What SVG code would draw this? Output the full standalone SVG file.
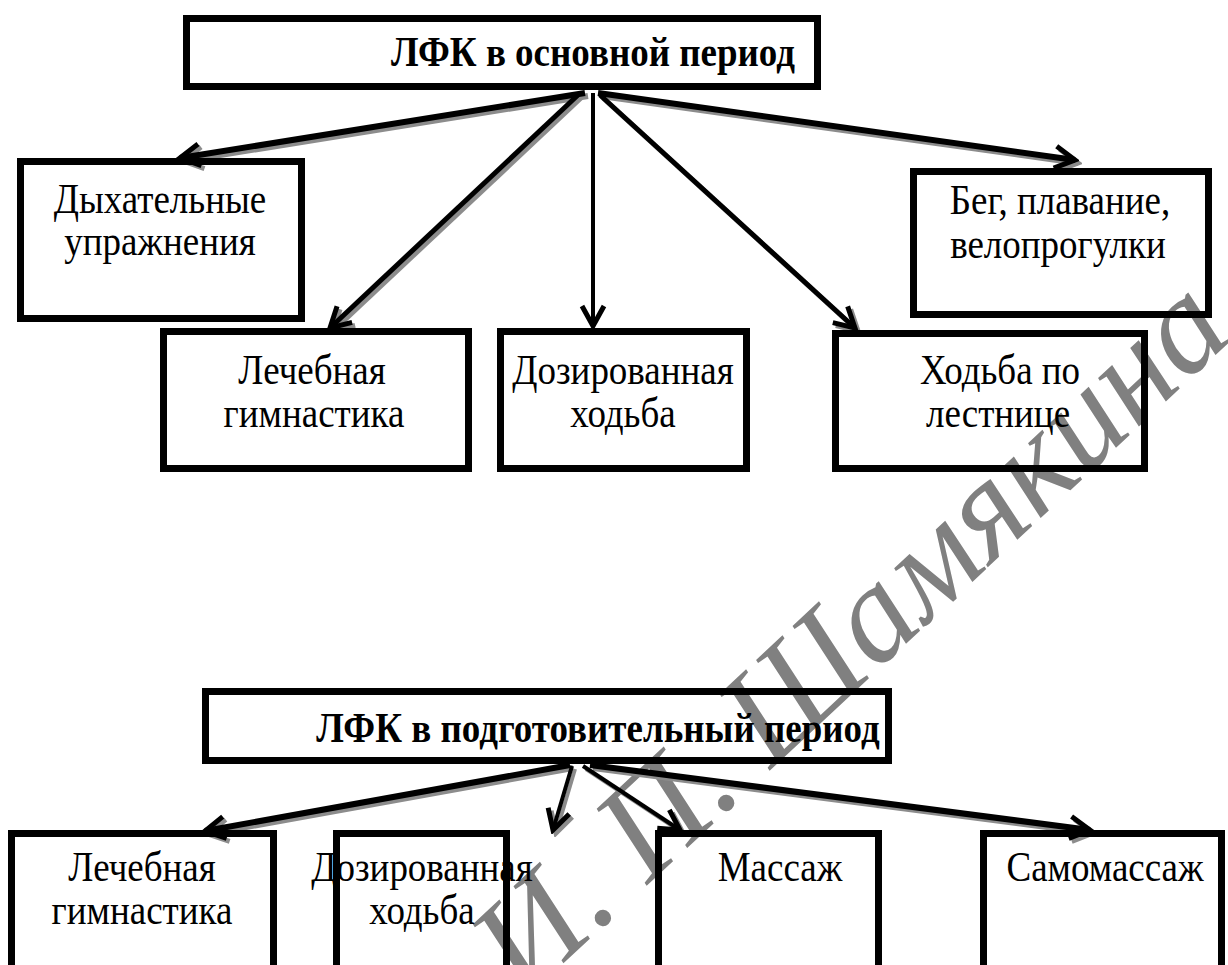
<svg xmlns="http://www.w3.org/2000/svg" width="1228" height="965" viewBox="0 0 1228 965">
<style>
.box{fill:none;stroke:#000;stroke-width:7}
.t{font-family:"Liberation Serif","Times New Roman",serif;font-size:37px;fill:#000;text-anchor:middle}
.tb{font-family:"Liberation Serif","Times New Roman",serif;font-size:37px;font-weight:bold;fill:#000;text-anchor:middle}
.ln{stroke:#000;fill:none;marker-end:url(#ah)}
.sh{stroke:#8c8c8c;fill:none;marker-end:url(#ahs)}
.wm{font-family:"Liberation Serif","Times New Roman",serif;font-size:138px;font-style:italic;fill:#808080;text-anchor:end}
</style>
<defs>
<marker id="ah" markerUnits="userSpaceOnUse" viewBox="0 0 28 28" markerWidth="28" markerHeight="28" refX="24" refY="14" orient="auto">
<path d="M4,3 L24,14 L4,25" fill="none" stroke="#000" stroke-width="5"/>
</marker>
<marker id="ahs" markerUnits="userSpaceOnUse" viewBox="0 0 28 28" markerWidth="28" markerHeight="28" refX="24" refY="14" orient="auto">
<path d="M4,3 L24,14 L4,25" fill="none" stroke="#8c8c8c" stroke-width="5"/>
</marker>
</defs>
<rect width="1228" height="965" fill="#fff"/>
<g id="watermark">
<text class="wm" transform="translate(1236,336) rotate(-43)">И. П. Шамякина</text>
</g>
<g id="connectors">
<g transform="translate(3,3)">
<line class="sh" x1="585" y1="93" x2="180" y2="158" stroke-width="6"/>
<line class="sh" x1="578" y1="95" x2="330" y2="328" stroke-width="5"/>
<line class="sh" x1="600" y1="95" x2="855" y2="328" stroke-width="5"/>
<line class="sh" x1="598" y1="93" x2="1075" y2="160" stroke-width="6"/>
<line class="sh" x1="570" y1="765" x2="205" y2="831" stroke-width="6"/>
<line class="sh" x1="572" y1="766" x2="553" y2="830" stroke-width="4"/>
<line class="sh" x1="583" y1="766" x2="680" y2="830" stroke-width="4"/>
<line class="sh" x1="590" y1="765" x2="1090" y2="830" stroke-width="6"/>
</g>
<line class="ln" x1="585" y1="93" x2="180" y2="158" stroke-width="6"/>
<line class="ln" x1="578" y1="95" x2="330" y2="328" stroke-width="5"/>
<line class="ln" x1="593" y1="93" x2="593" y2="326" stroke-width="4"/>
<line class="ln" x1="600" y1="95" x2="855" y2="328" stroke-width="5"/>
<line class="ln" x1="598" y1="93" x2="1075" y2="160" stroke-width="6"/>
<line class="ln" x1="570" y1="765" x2="205" y2="831" stroke-width="6"/>
<line class="ln" x1="572" y1="766" x2="553" y2="830" stroke-width="4"/>
<line class="ln" x1="583" y1="766" x2="680" y2="830" stroke-width="4"/>
<line class="ln" x1="590" y1="765" x2="1090" y2="830" stroke-width="6"/>
</g>
<g id="n-main">
<rect class="box" x="186.5" y="18.5" width="631" height="68"/>
<text class="tb" transform="translate(593,66) scale(1,1.15)">ЛФК в основной период</text>
</g>
<g id="n-breath">
<rect class="box" x="20.5" y="161.5" width="281" height="157"/>
<text class="t" transform="translate(160,213) scale(1,1.16)">Дыхательные</text>
<text class="t" transform="translate(160,255) scale(1,1.16)">упражнения</text>
</g>
<g id="n-run">
<rect class="box" x="913.5" y="171.5" width="295" height="143"/>
<text class="t" transform="translate(1060,214) scale(1,1.16)">Бег, плавание,</text>
<text class="t" transform="translate(1058,258) scale(1,1.16)">велопрогулки</text>
</g>
<g id="n-gym1">
<rect class="box" x="163.5" y="331.5" width="305" height="137"/>
<text class="t" transform="translate(312,384) scale(1,1.16)">Лечебная</text>
<text class="t" transform="translate(314,427) scale(1,1.16)">гимнастика</text>
</g>
<g id="n-walk1">
<rect class="box" x="500.5" y="331.5" width="246" height="137"/>
<text class="t" transform="translate(623,384) scale(1,1.16)">Дозированная</text>
<text class="t" transform="translate(623,427) scale(1,1.16)">ходьба</text>
</g>
<g id="n-stairs">
<rect class="box" x="835.5" y="333.5" width="309" height="135"/>
<text class="t" transform="translate(1000,384) scale(1,1.16)">Ходьба по</text>
<text class="t" transform="translate(998,427) scale(1,1.16)">лестнице</text>
</g>
<g id="n-prep">
<rect class="box" x="205.5" y="691.5" width="683" height="69"/>
<text class="tb" transform="translate(598,742) scale(1,1.15)">ЛФК в подготовительный период</text>
</g>
<g id="n-gym2">
<rect class="box" x="11.5" y="833.5" width="262" height="200"/>
<text class="t" transform="translate(142,881) scale(1,1.16)">Лечебная</text>
<text class="t" transform="translate(142,924) scale(1,1.16)">гимнастика</text>
</g>
<g id="n-walk2">
<rect class="box" x="336.5" y="833.5" width="170" height="200"/>
<text class="t" transform="translate(422,881) scale(1,1.16)">Дозированная</text>
<text class="t" transform="translate(422,924) scale(1,1.16)">ходьба</text>
</g>
<g id="n-massage">
<rect class="box" x="658.5" y="833.5" width="220" height="200"/>
<text class="t" transform="translate(780,881) scale(1,1.16)">Массаж</text>
</g>
<g id="n-selfmassage">
<rect class="box" x="983.5" y="833.5" width="238" height="200"/>
<text class="t" transform="translate(1105,881) scale(1,1.16)">Самомассаж</text>
</g>
</svg>
